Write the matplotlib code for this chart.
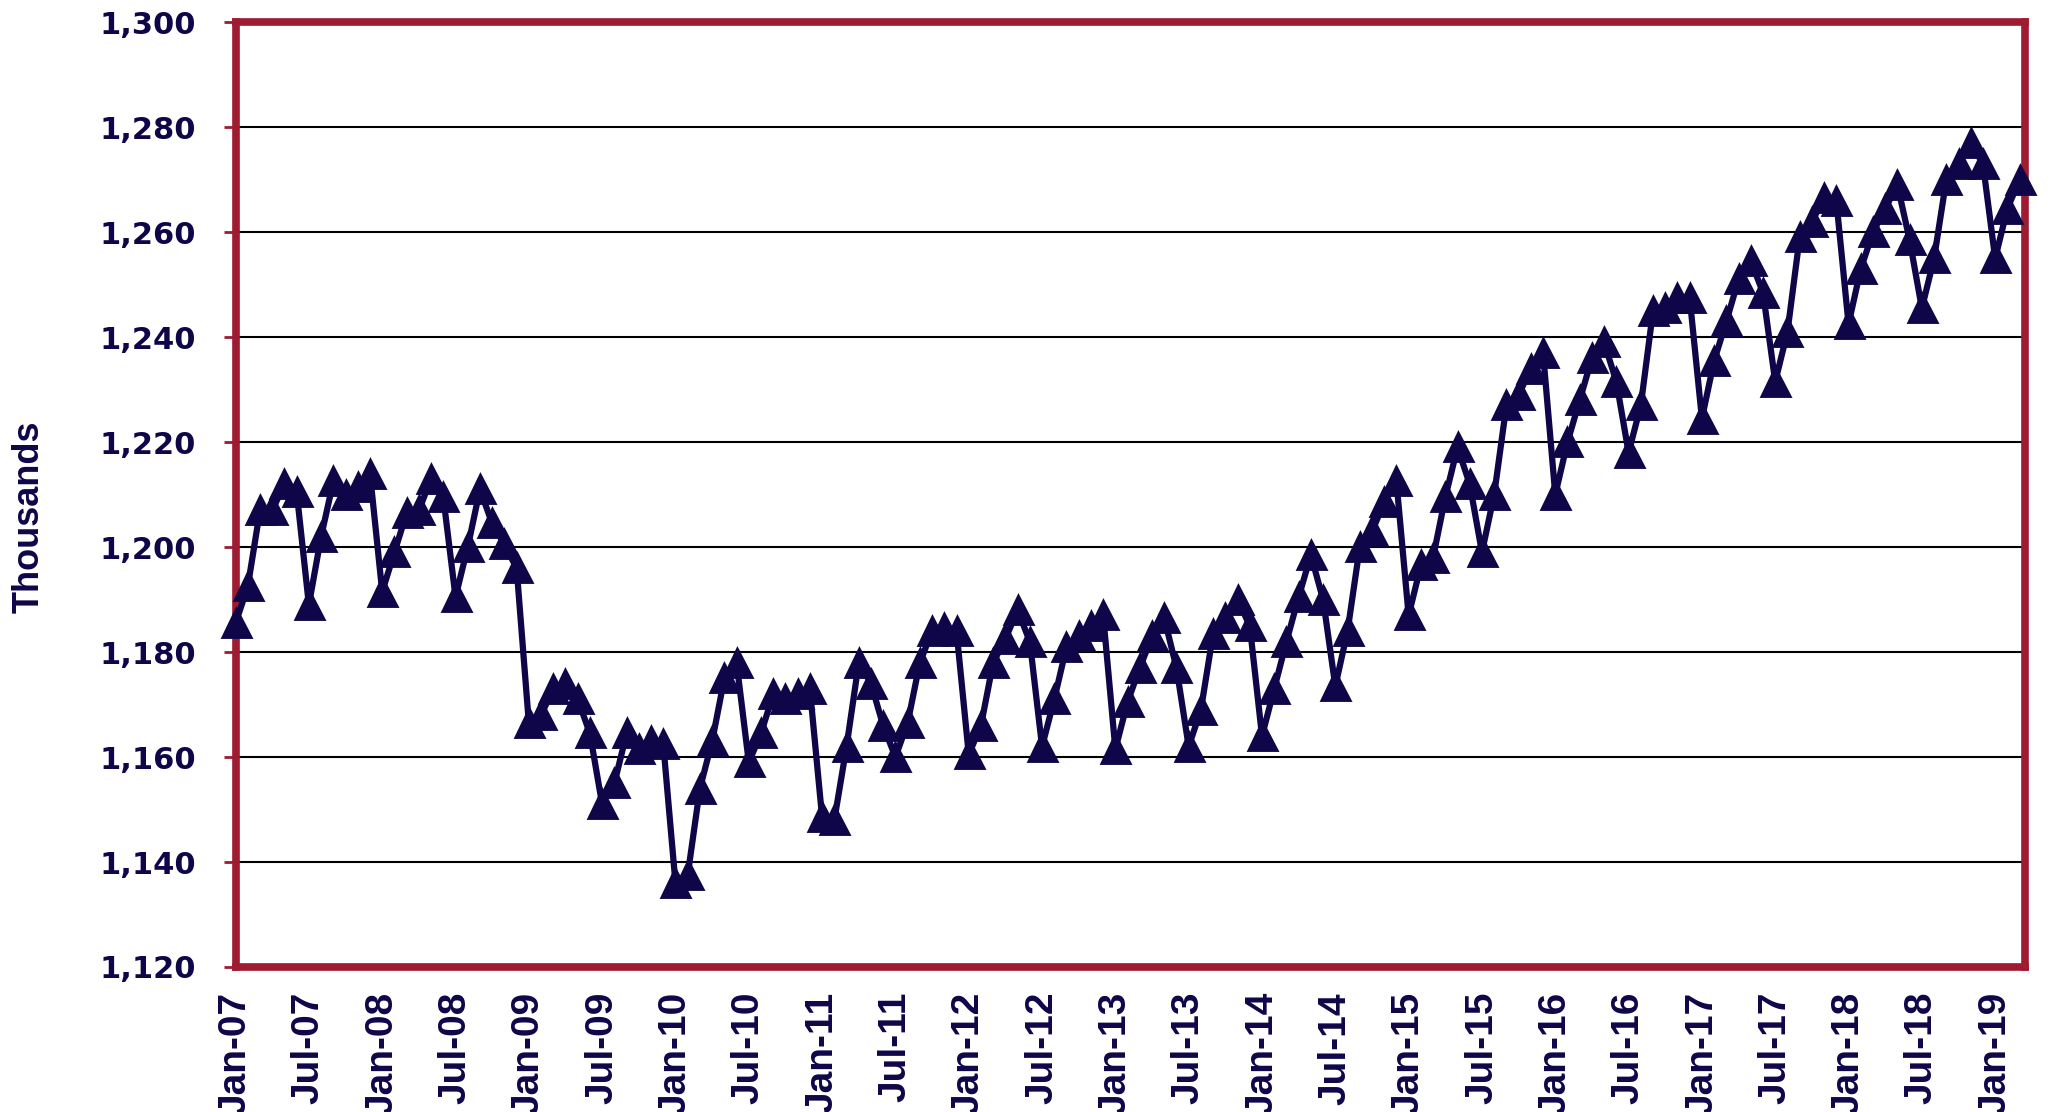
import matplotlib
matplotlib.use('Agg')
import matplotlib.pyplot as plt
from matplotlib.ticker import FuncFormatter

NAVY = '#0e0648'
RED = '#9e1b32'

# monthly values (thousands), Jan-07 .. Mar-19
v2007 = [1185.5, 1192.5, 1207, 1207, 1212, 1210.5, 1189, 1202, 1212.5, 1210, 1211.5, 1214]
v2008 = [1191.5, 1199, 1206.5, 1207, 1213, 1209.5, 1190.5, 1200, 1211, 1204.5, 1200.5, 1196]
v2009 = [1166.5, 1168, 1173, 1174, 1171, 1164.5, 1151, 1155, 1164.5, 1161.5, 1163, 1162.5]
v2010 = [1136, 1137.5, 1154, 1163, 1175, 1178, 1159, 1164.5, 1172, 1171, 1172, 1173]
v2011 = [1148.5, 1148, 1162, 1178, 1174, 1166, 1160, 1166.5, 1178, 1184, 1184.5, 1184]
v2012 = [1160.5, 1166, 1178, 1182.5, 1188, 1182, 1162, 1171, 1181, 1183, 1185, 1187]
v2013 = [1161.5, 1170.5, 1177, 1183, 1186.5, 1177, 1162, 1169, 1183.5, 1186.5, 1190, 1185]
v2014 = [1164, 1173, 1182, 1190.5, 1198.5, 1190, 1173.5, 1184, 1200, 1203, 1208.5, 1212.5]
v2015 = [1187, 1196.5, 1198, 1209.5, 1219, 1212, 1199, 1210, 1227, 1229, 1234, 1237]
v2016 = [1210, 1220, 1228, 1236, 1239, 1231.5, 1218, 1227, 1245, 1245.5, 1247.5, 1247.5]
v2017 = [1224.5, 1235.5, 1243, 1251, 1254.5, 1248.5, 1231.5, 1241, 1259, 1262, 1266.5, 1266]
v2018 = [1242.5, 1253, 1260, 1264.5, 1269, 1258.5, 1245.5, 1255, 1270, 1273, 1277, 1273]
v2019 = [1255, 1264.5, 1270]

tick_labels = ['Jan-07', 'Jul-07', 'Jan-08', 'Jul-08', 'Jan-09', 'Jul-09', 'Jan-10',
               'Jul-10', 'Jan-11', 'Jul-11', 'Jan-12', 'Jul-12', 'Jan-13', 'Jul-13',
               'Jan-14', 'Jul-14', 'Jan-15', 'Jul-15', 'Jan-16', 'Jul-16', 'Jan-17',
               'Jul-17', 'Jan-18', 'Jul-18', 'Jan-19']


def plot_series(plot_file):
    values = (v2007 + v2008 + v2009 + v2010 + v2011 + v2012 + v2013 + v2014
              + v2015 + v2016 + v2017 + v2018 + v2019)
    months = list(range(len(values)))

    plt.rcParams['font.family'] = 'DejaVu Sans'
    fig = plt.figure(figsize=(20.52, 11.12), dpi=100)
    ax = fig.add_axes([0.1148, 0.1304, 0.8718, 0.8496])

    ax.plot(months, values, color=NAVY, lw=4.5, marker='^', ms=18, mew=3.5,
            mec=NAVY, mfc=NAVY, solid_joinstyle='round', clip_on=False, zorder=3)

    ax.set_xlim(0, 146.4)
    ax.set_ylim(1120, 1300)
    ax.set_yticks(range(1120, 1301, 20))
    ax.yaxis.set_major_formatter(FuncFormatter(lambda v, p: '{:,.0f}'.format(v)))
    ax.set_xticks(range(0, 6 * len(tick_labels), 6))
    ax.set_xticklabels(tick_labels, rotation=90)

    ax.yaxis.grid(True, color='black', lw=1.5)
    ax.set_axisbelow(True)

    for s in ax.spines.values():
        s.set_color(RED)
        s.set_linewidth(5.5)

    ax.tick_params(axis='y', colors=RED, length=8.5, width=2, pad=20,
                   labelcolor=NAVY, labelsize=22)
    ax.tick_params(axis='x', length=0, pad=18, labelcolor=NAVY)
    for lbl in ax.get_yticklabels():
        lbl.set_fontweight('bold')
    for lbl in ax.get_xticklabels():
        lbl.set_fontweight('bold')
        lbl.set_fontsize(28)
        lbl.set_family(['Liberation Sans', 'DejaVu Sans'])

    fig.text(0.0144, 0.535, 'Thousands', rotation=90, ha='center', va='center',
             fontsize=26, fontweight='bold', color=NAVY,
             family=['Liberation Sans', 'DejaVu Sans'])

    fig.savefig(plot_file, dpi=100)


def main():
    plot_series('out.png')


if __name__ == '__main__':
    main()
